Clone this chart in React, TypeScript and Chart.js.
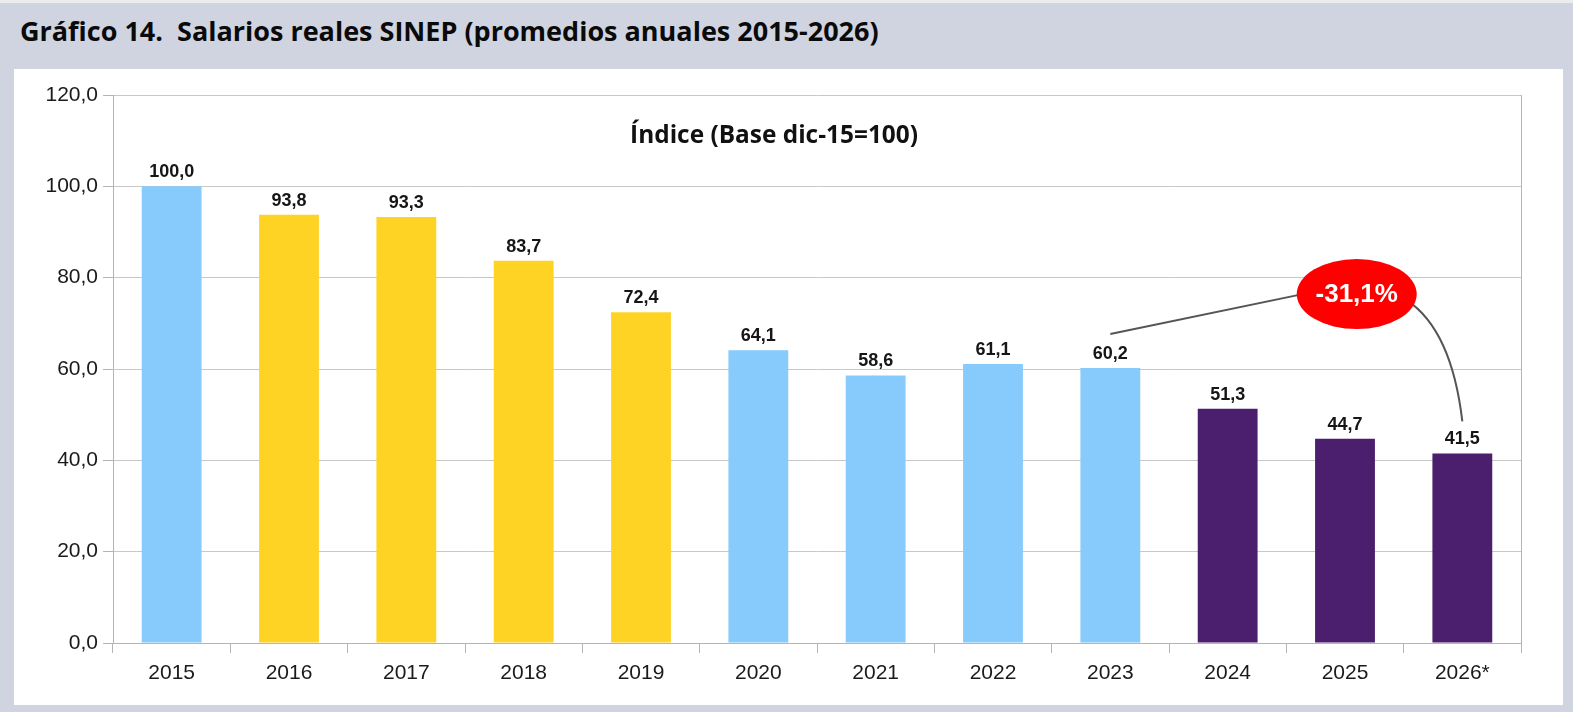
import React, { useEffect, useRef } from "react";
import { Chart, registerables } from "chart.js";

Chart.register(...registerables);

const categories = ["2015", "2016", "2017", "2018", "2019", "2020", "2021", "2022", "2023", "2024", "2025", "2026*"];
const values = [100.0, 93.8, 93.3, 83.7, 72.4, 64.1, 58.6, 61.1, 60.2, 51.3, 44.7, 41.5];
const barColors = [
  "#87cafc", "#ffd324", "#ffd324", "#ffd324", "#ffd324",
  "#87cafc", "#87cafc", "#87cafc", "#87cafc",
  "#4b1f6e", "#4b1f6e", "#4b1f6e",
];
const yMin = 0;
const yMax = 120;
const yStep = 20;

const headerTitle = "Gráfico 14.  Salarios reales SINEP (promedios anuales 2015-2026)";
const innerTitle = "Índice (Base dic-15=100)";
const changeLabel = "-31,1%";
const changeFromIndex = 8;
const changeToIndex = 11;
const bubbleAt = { x: 10.1, y: 76.4 };

const fmt = (v: number) => v.toFixed(1).replace(".", ",");

const overlayPlugin = {
  id: "overlay",
  afterDatasetsDraw(chart: any) {
    const { ctx, chartArea, scales } = chart;
    const xs = scales.x;
    const ys = scales.y;
    const meta = chart.getDatasetMeta(0);
    ctx.save();

    // right border of plot area
    ctx.strokeStyle = "#b4b4b4";
    ctx.lineWidth = 1;
    ctx.beginPath();
    ctx.moveTo(Math.round(chartArea.right) + 0.5, chartArea.top);
    ctx.lineTo(Math.round(chartArea.right) + 0.5, chartArea.bottom + 10);
    ctx.stroke();

    // inner title
    ctx.fillStyle = "#111";
    ctx.textAlign = "center";
    ctx.textBaseline = "alphabetic";
    ctx.font = 'bold 22px "Open Sans"';
    const w = ctx.measureText(innerTitle).width;
    const size = (22 * 288) / w;
    ctx.font = `bold ${size.toFixed(2)}px "Open Sans"`;
    ctx.fillText(innerTitle, chartArea.left + (chartArea.right - chartArea.left) * 0.4695, chartArea.top + 48);

    // value labels
    ctx.font = 'bold 18px "Liberation Sans", Arial';
    ctx.fillStyle = "#161616";
    meta.data.forEach((bar: any, i: number) => {
      ctx.fillText(fmt(values[i]), bar.x, bar.y - 9);
    });

    // annotation
    const cx = xs.getPixelForValue(bubbleAt.x);
    const cy = ys.getPixelForValue(bubbleAt.y);
    const from = meta.data[changeFromIndex];
    const to = meta.data[changeToIndex];
    ctx.strokeStyle = "#555";
    ctx.lineWidth = 2;
    ctx.beginPath();
    ctx.moveTo(from.x, from.y - 34);
    ctx.lineTo(cx - 30, cy - 5);
    ctx.stroke();
    ctx.beginPath();
    ctx.moveTo(cx + 50, cy + 6);
    ctx.quadraticCurveTo(cx + 95, cy + 36, to.x, to.y - 32);
    ctx.stroke();

    ctx.fillStyle = "#ff0000";
    ctx.beginPath();
    ctx.ellipse(cx, cy, 60, 35, 0, 0, Math.PI * 2);
    ctx.fill();
    ctx.fillStyle = "#ffffff";
    ctx.font = 'bold 26px "Liberation Sans", Arial';
    ctx.textBaseline = "middle";
    ctx.fillText(changeLabel, cx, cy + 1);

    ctx.restore();
  },
};

export default function App() {
  const ref = useRef<HTMLCanvasElement | null>(null);

  useEffect(() => {
    if (!ref.current) return;
    const chart = new Chart(ref.current, {
      type: "bar",
      data: {
        labels: categories,
        datasets: [
          {
            data: values,
            backgroundColor: barColors,
            borderWidth: 0,
            barPercentage: 0.51,
            categoryPercentage: 1,
          },
        ],
      },
      options: {
        animation: false,
        responsive: true,
        maintainAspectRatio: false,
        layout: { padding: { top: 26, right: 42, left: 0, bottom: 0 } },
        plugins: {
          legend: { display: false },
          tooltip: { enabled: false },
          title: { display: false },
        },
        scales: {
          x: {
            afterFit: (s: any) => {
              s.height = 62;
            },
            grid: {
              display: true,
              drawOnChartArea: false,
              drawTicks: true,
              tickLength: 10,
              offset: true,
              color: "#b4b4b4",
            },
            border: { display: true, color: "#b4b4b4" },
            ticks: {
              color: "#1a1a1a",
              padding: 8,
              font: { family: '"Liberation Sans", Arial', size: 21 },
            },
          },
          y: {
            min: yMin,
            max: yMax,
            afterFit: (s: any) => {
              s.width = 99;
            },
            grid: {
              color: "#c8c8c8",
              tickColor: "#b4b4b4",
              tickLength: 10,
            },
            border: { display: true, color: "#b4b4b4" },
            ticks: {
              stepSize: yStep,
              color: "#1a1a1a",
              padding: 5,
              font: { family: '"Liberation Sans", Arial', size: 21 },
              callback: (v: any) => fmt(Number(v)),
            },
          },
        },
      },
      plugins: [overlayPlugin],
    });
    return () => chart.destroy();
  }, []);

  return (
    <div
      style={{
        position: "fixed",
        left: 0,
        top: 0,
        width: 1573,
        height: 712,
        background: "#cfd4e0",
        overflow: "hidden",
      }}
    >
      <div style={{ position: "absolute", left: 0, top: 0, width: 1573, height: 3, background: "#ececec" }} />
      <div
        style={{
          position: "absolute",
          left: 20,
          top: 11,
          fontFamily: '"Open Sans", sans-serif',
          fontWeight: 700,
          fontSize: 27,
          lineHeight: "40px",
          color: "#0a0a0a",
          whiteSpace: "pre",
        }}
      >
        {headerTitle}
      </div>
      <div
        style={{
          position: "absolute",
          left: 14,
          top: 69,
          width: 1549,
          height: 636,
          background: "#ffffff",
        }}
      >
        <canvas ref={ref} />
      </div>
    </div>
  );
}
